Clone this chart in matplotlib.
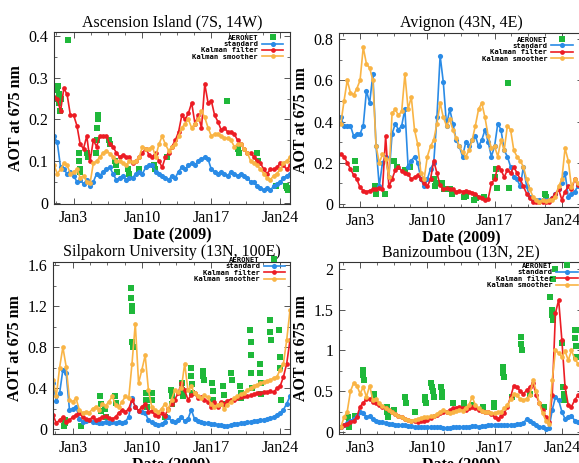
import numpy as np
import matplotlib
matplotlib.use('Agg')
import matplotlib.pyplot as plt
from matplotlib.ticker import FixedLocator, MultipleLocator, AutoMinorLocator

# ---- data: model AOT every 8 hours, AERONET as (day, value) ----
days_left = np.arange(73) / 3 + 1      # Jan 1 .. Jan 25
days_right = np.arange(76) / 3 + 1     # Jan 1 .. Jan 26

asc_std = [0.16, 0.145, 0.085, 0.08, 0.07, 0.075, 0.065, 0.05, 0.055, 0.045, 0.055, 0.04,
           0.05, 0.07, 0.065, 0.075, 0.08, 0.085, 0.07, 0.055, 0.06, 0.065, 0.055, 0.06,
           0.06, 0.07, 0.075, 0.07, 0.085, 0.09, 0.09, 0.075, 0.07, 0.065, 0.06, 0.055,
           0.065, 0.06, 0.075, 0.085, 0.08, 0.09, 0.095, 0.09, 0.10, 0.105, 0.11, 0.105,
           0.08, 0.075, 0.07, 0.075, 0.07, 0.065, 0.075, 0.07, 0.065, 0.07, 0.065, 0.06,
           0.05, 0.05, 0.04, 0.035, 0.03, 0.035, 0.03, 0.04, 0.045, 0.05, 0.06, 0.065, 0.07]
asc_kf = [0.255, 0.25, 0.22, 0.275, 0.26, 0.21, 0.21, 0.185, 0.14, 0.13, 0.16, 0.10,
          0.15, 0.135, 0.16, 0.16, 0.16, 0.14, 0.135, 0.12, 0.11, 0.115, 0.11, 0.11,
          0.095, 0.10, 0.11, 0.12, 0.13, 0.115, 0.11, 0.12, 0.10, 0.085, 0.11, 0.12,
          0.135, 0.15, 0.17, 0.21, 0.20, 0.215, 0.24, 0.19, 0.21, 0.18, 0.285, 0.24,
          0.245, 0.21, 0.195, 0.175, 0.18, 0.17, 0.17, 0.165, 0.15, 0.14, 0.13, 0.12,
          0.12, 0.11, 0.10, 0.095, 0.08, 0.07, 0.08, 0.08, 0.085, 0.095, 0.09, 0.08, 0.09]
asc_ks = [0.09, 0.07, 0.08, 0.095, 0.09, 0.07, 0.075, 0.08, 0.06, 0.065, 0.05, 0.047,
          0.095, 0.10, 0.11, 0.12, 0.125, 0.118, 0.11, 0.10, 0.10, 0.095, 0.09, 0.10,
          0.098, 0.10, 0.11, 0.135, 0.13, 0.13, 0.135, 0.11, 0.14, 0.16, 0.14, 0.125,
          0.135, 0.14, 0.16, 0.18, 0.19, 0.20, 0.18, 0.19, 0.20, 0.22, 0.205, 0.18,
          0.16, 0.165, 0.166, 0.16, 0.155, 0.155, 0.15, 0.135, 0.14, 0.14, 0.13, 0.12,
          0.10, 0.095, 0.09, 0.08, 0.07, 0.06, 0.055, 0.065, 0.07, 0.08, 0.095, 0.10, 0.11]
asc_aer_t = [1.3, 1.35, 1.4, 1.45, 1.5, 1.55, 1.6, 1.75, 2.45, 3.5, 3.55, 3.6, 3.65, 4.4, 4.5,
             5.3, 5.35, 5.4, 5.45, 5.5, 6.6, 6.7, 7.2, 7.3, 7.4, 8.5, 8.6, 9.6, 11.2, 11.3,
             12.5, 18.6, 19.7, 19.8, 21.6, 21.7, 23.6, 24.6, 24.7, 24.8, 24.9]
asc_aer_v = [0.25, 0.27, 0.28, 0.28, 0.26, 0.24, 0.22, 0.25, 0.39, 0.12, 0.10, 0.08, 0.075, 0.12, 0.11,
             0.12, 0.15, 0.18, 0.20, 0.21, 0.15, 0.14, 0.10, 0.09, 0.075, 0.08, 0.07, 0.08, 0.09, 0.08,
             0.11, 0.245, 0.13, 0.12, 0.12, 0.10, 0.04, 0.04, 0.035, 0.03, 0.035]

avi_std = [0.42, 0.38, 0.38, 0.38, 0.33, 0.34, 0.34, 0.38, 0.55, 0.49, 0.63, 0.28,
           0.085, 0.20, 0.23, 0.13, 0.34, 0.39, 0.36, 0.38, 0.46, 0.18, 0.21, 0.23,
           0.20, 0.12, 0.085, 0.12, 0.17, 0.20, 0.42, 0.72, 0.59, 0.38, 0.46, 0.39,
           0.31, 0.28, 0.23, 0.30, 0.28, 0.31, 0.33, 0.28, 0.31, 0.36, 0.30, 0.23,
           0.28, 0.39, 0.36, 0.26, 0.23, 0.18, 0.13, 0.12, 0.085, 0.18, 0.085, 0.035,
           0.02, 0.02, 0.02, 0.02, 0.02, 0.02, 0.03, 0.05, 0.07, 0.10, 0.15, 0.035,
           0.05, 0.06, 0.085, 0.09]
avi_kf = [0.24, 0.23, 0.20, 0.17, 0.14, 0.12, 0.08, 0.065, 0.06, 0.065, 0.07, 0.07,
          0.075, 0.07, 0.33, 0.085, 0.12, 0.165, 0.18, 0.16, 0.15, 0.145, 0.12, 0.13,
          0.14, 0.12, 0.10, 0.085, 0.12, 0.21, 0.15, 0.09, 0.07, 0.075, 0.07, 0.07,
          0.06, 0.065, 0.06, 0.065, 0.06, 0.055, 0.05, 0.035, 0.03, 0.02, 0.025, 0.10,
          0.12, 0.18, 0.165, 0.13, 0.165, 0.15, 0.18, 0.15, 0.12, 0.085, 0.05, 0.03,
          0.01, 0.01, 0.01, 0.01, 0.01, 0.01, 0.03, 0.05, 0.07, 0.02, 0.06, 0.085,
          0.07, 0.12, 0.09, 0.07]
avi_ks = [0.39, 0.50, 0.60, 0.54, 0.53, 0.56, 0.60, 0.76, 0.68, 0.66, 0.60, 0.28,
          0.20, 0.24, 0.22, 0.13, 0.44, 0.46, 0.43, 0.45, 0.63, 0.46, 0.52, 0.36,
          0.29, 0.15, 0.12, 0.23, 0.28, 0.31, 0.39, 0.49, 0.42, 0.38, 0.41, 0.36,
          0.32, 0.28, 0.25, 0.23, 0.26, 0.31, 0.38, 0.46, 0.49, 0.42, 0.33, 0.27,
          0.28, 0.23, 0.31, 0.26, 0.38, 0.36, 0.26, 0.23, 0.21, 0.18, 0.12, 0.07,
          0.035, 0.02, 0.01, 0.02, 0.015, 0.02, 0.02, 0.035, 0.085, 0.12, 0.27, 0.21,
          0.08, 0.12, 0.10, 0.08]
avi_aer_t = [2.5, 2.55, 4.6, 4.7, 5.6, 6.5, 6.8, 7.7, 8.2, 10.7, 10.8, 10.9, 11.5, 11.7,
             12.4, 12.6, 13.8, 14.0, 14.9, 15.1, 15.9, 17.0, 17.1, 17.2, 18.4, 18.45, 22.2, 22.3]
avi_aer_v = [0.21, 0.17, 0.085, 0.05, 0.05, 0.21, 0.18, 0.165, 0.18, 0.12, 0.085, 0.10, 0.10, 0.07,
             0.07, 0.05, 0.035, 0.04, 0.02, 0.03, 0.035, 0.13, 0.17, 0.075, 0.585, 0.075, 0.05, 0.035]

sil_std = [0.45, 0.28, 0.35, 0.58, 0.55, 0.19, 0.20, 0.22, 0.10, 0.075, 0.08, 0.09,
           0.075, 0.07, 0.06, 0.065, 0.075, 0.06, 0.07, 0.06, 0.075, 0.065, 0.075, 0.12,
           0.30, 0.22, 0.18, 0.17, 0.16, 0.09, 0.07, 0.055, 0.04, 0.05, 0.075, 0.12,
           0.08, 0.07, 0.09, 0.12, 0.08, 0.10, 0.19, 0.10, 0.08, 0.075, 0.06, 0.06,
           0.055, 0.05, 0.045, 0.04, 0.035, 0.035, 0.045, 0.05, 0.055, 0.06, 0.065, 0.07,
           0.075, 0.08, 0.085, 0.09, 0.095, 0.10, 0.11, 0.12, 0.14, 0.16, 0.19, 0.25, 0.32]
sil_kf = [0.14, 0.06, 0.09, 0.12, 0.075, 0.09, 0.12, 0.14, 0.16, 0.12, 0.10, 0.09,
          0.12, 0.09, 0.10, 0.12, 0.13, 0.11, 0.10, 0.12, 0.16, 0.19, 0.17, 0.20,
          0.29, 0.22, 0.18, 0.22, 0.25, 0.17, 0.18, 0.14, 0.13, 0.16, 0.13, 0.20,
          0.25, 0.29, 0.35, 0.45, 0.38, 0.29, 0.33, 0.35, 0.30, 0.31, 0.29, 0.27,
          0.22, 0.27, 0.22, 0.27, 0.25, 0.28, 0.29, 0.29, 0.30, 0.31, 0.32, 0.32,
          0.33, 0.34, 0.35, 0.35, 0.36, 0.36, 0.37, 0.36, 0.40, 0.42, 0.51, 0.64, 0.87]
sil_ks = [0.48, 0.32, 0.60, 0.80, 0.61, 0.29, 0.27, 0.30, 0.19, 0.16, 0.17, 0.16,
          0.20, 0.22, 0.19, 0.25, 0.23, 0.27, 0.32, 0.24, 0.22, 0.27, 0.32, 0.30,
          0.64, 1.03, 0.45, 0.58, 0.72, 0.38, 0.22, 0.19, 0.17, 0.20, 0.25, 0.19,
          0.29, 0.38, 0.36, 0.40, 0.64, 0.38, 0.42, 0.35, 0.32, 0.30, 0.33, 0.31,
          0.25, 0.22, 0.24, 0.25, 0.20, 0.24, 0.27, 0.30, 0.32, 0.34, 0.35, 0.38,
          0.40, 0.42, 0.43, 0.45, 0.46, 0.47, 0.48, 0.50, 0.51, 0.58, 0.64, 0.87, 1.16]
sil_aer_t = [2.15, 2.2, 2.25, 3.8, 5.8, 5.85, 5.9, 6.3, 6.35, 7.3, 7.35,
             8.85, 8.9, 8.95, 9.0, 9.05, 9.1, 10.4, 10.45, 10.5, 11.0, 11.05, 12.3,
             12.95, 13.0, 13.05, 14.05, 14.1, 14.15, 14.95, 15.0, 15.05, 15.1,
             16.15, 16.2, 16.25, 17.15, 17.2, 17.25, 18.25, 18.3, 18.35, 19.05, 19.1,
             19.95, 20.0, 20.05, 20.95, 21.0, 21.05, 21.1, 21.15, 21.95, 22.0, 22.05, 22.1,
             22.95, 23.0, 23.05, 23.85, 23.95, 24.0, 24.05]
sil_aer_v = [0.03, 0.06, 0.09, 0.03, 0.32, 0.25, 0.18, 0.20, 0.12, 0.32, 0.26,
             1.38, 1.28, 1.20, 1.15, 0.85, 0.80, 0.35, 0.29, 0.22, 0.35, 0.29, 0.12,
             0.38, 0.32, 0.25, 0.45, 0.38, 0.32, 0.60, 0.52, 0.44, 0.35,
             0.57, 0.52, 0.48, 0.45, 0.37, 0.29, 0.42, 0.33, 0.25, 0.55, 0.48,
             0.42, 0.35, 0.30, 0.97, 0.85, 0.72, 0.55, 0.40, 0.64, 0.55, 0.45, 0.34,
             1.06, 0.95, 0.87, 0.97, 0.70, 0.60, 0.29]

ban_std = [0.06, 0.08, 0.11, 0.14, 0.16, 0.20, 0.25, 0.23, 0.18, 0.20, 0.16, 0.14,
           0.12, 0.12, 0.11, 0.10, 0.10, 0.09, 0.09, 0.08, 0.08, 0.07, 0.07, 0.065,
           0.06, 0.06, 0.06, 0.06, 0.06, 0.06, 0.055, 0.055, 0.05, 0.05, 0.05, 0.055,
           0.06, 0.06, 0.06, 0.065, 0.065, 0.07, 0.07, 0.065, 0.07, 0.075, 0.08, 0.08,
           0.085, 0.09, 0.09, 0.085, 0.085, 0.09, 0.09, 0.10, 0.10, 0.11, 0.16, 0.14,
           0.11, 0.08, 0.06, 0.06, 0.04, 0.05, 0.27, 0.43, 0.39, 0.25, 0.16, 0.18,
           0.20, 0.14, 0.12, 0.11]
ban_kf = [0.06, 0.08, 0.10, 0.12, 0.14, 0.18, 0.31, 0.36, 0.40, 0.41, 0.37, 0.35,
          0.33, 0.31, 0.29, 0.27, 0.24, 0.22, 0.20, 0.18, 0.16, 0.15, 0.14, 0.13,
          0.12, 0.13, 0.14, 0.15, 0.17, 0.19, 0.21, 0.23, 0.25, 0.25, 0.27, 0.29,
          0.30, 0.31, 0.29, 0.27, 0.29, 0.31, 0.29, 0.27, 0.26, 0.25, 0.24, 0.22,
          0.18, 0.16, 0.19, 0.23, 0.31, 0.43, 0.57, 0.55, 0.50, 0.47, 0.51, 0.55,
          0.60, 0.45, 0.35, 0.27, 0.18, 0.12, 0.45, 1.46, 1.62, 1.13, 0.55, 0.33,
          0.31, 0.39, 0.45, 0.39]
ban_ks = [0.06, 0.18, 0.25, 0.50, 0.60, 0.57, 0.47, 0.55, 0.43, 0.57, 0.39, 0.41,
          0.35, 0.32, 0.29, 0.27, 0.25, 0.22, 0.20, 0.18, 0.16, 0.15, 0.14, 0.15,
          0.16, 0.17, 0.18, 0.18, 0.19, 0.20, 0.22, 0.25, 0.27, 0.25, 0.23, 0.24,
          0.26, 0.27, 0.26, 0.30, 0.33, 0.43, 0.33, 0.29, 0.26, 0.25, 0.24, 0.23,
          0.23, 0.24, 0.25, 0.29, 0.33, 0.40, 0.47, 0.45, 0.40, 0.39, 0.41, 0.45,
          0.64, 0.50, 0.35, 0.23, 0.14, 0.10, 0.64, 1.00, 0.97, 0.92, 0.99, 0.88,
          1.00, 0.90, 0.84, 0.80]
ban_aer_t = [1.75, 1.8, 1.85, 2.5, 3.3, 3.35, 3.4, 4.4, 4.45, 5.8, 5.85, 5.9, 6.5, 7.7, 7.75,
             8.7, 9.75, 9.8, 9.85, 10.4, 10.5, 10.6, 10.7, 11.45, 11.5, 11.55, 12.7, 13.8, 13.85,
             14.6, 15.8, 16.9, 16.95, 17.85, 17.9, 17.95, 18.8, 19.75, 19.8, 19.85, 20.7, 22.1,
             22.8, 22.95, 23.0, 23.05, 23.1, 23.3, 24.0, 24.15, 24.2, 24.25,
             25.35, 25.4, 25.45, 25.5, 25.9]
ban_aer_v = [0.18, 0.12, 0.06, 0.20, 0.76, 0.70, 0.64, 0.47, 0.43, 0.31, 0.25, 0.18, 0.27, 0.43, 0.35,
             0.25, 0.43, 0.39, 0.35, 0.60, 0.55, 0.50, 0.43, 0.55, 0.49, 0.43, 0.35, 0.35, 0.32,
             0.33, 0.31, 0.35, 0.31, 0.80, 0.72, 0.68, 0.43, 1.17, 1.08, 1.00, 0.47, 0.31,
             1.66, 1.50, 1.44, 1.38, 1.88, 2.00, 1.09, 0.55, 0.47, 0.39,
             1.25, 1.15, 1.05, 0.92, 1.25]

# ---- style ----
C_AER = '#1fb83a'
C_STD = '#2a8be6'
C_KF = '#ec1c24'
C_KS = '#f9b445'
SERIF = 'Liberation Serif'

W, H = 579, 463
fig = plt.figure(figsize=(W / 100, H / 100), dpi=100)


def px_axes(left, top, right, bottom):
    return fig.add_axes([left / W, 1 - bottom / H, (right - left) / W, (bottom - top) / H])


def panel(ax, title, days, std, kf, ks, at, av, xlim, ylim, ystep, leg_xy):
    ax.plot(at, av, 's', color=C_AER, ms=3.8, mew=0, label='AERONET')
    ax.plot(days, std, '-o', color=C_STD, lw=1.2, ms=3.7, mew=0, label='standard')
    ax.plot(days, kf, '-o', color=C_KF, lw=1.2, ms=3.4, mew=0, label='Kalman filter')
    ax.plot(days, ks, '-o', color=C_KS, lw=1.2, ms=3.4, mew=0, label='Kalman smoother')

    ax.set_xlim(*xlim)
    ax.set_ylim(*ylim)
    ax.xaxis.set_major_locator(FixedLocator([3, 10, 17, 24]))
    ax.set_xticklabels(['Jan3', 'Jan10', 'Jan17', 'Jan24'])
    ax.xaxis.set_minor_locator(MultipleLocator(1.75, offset=3))
    ax.yaxis.set_major_locator(MultipleLocator(ystep))
    ax.yaxis.set_minor_locator(AutoMinorLocator(2))
    ax.yaxis.set_major_formatter(plt.FuncFormatter(lambda v, p: f'{v:g}'))

    ax.tick_params(which='both', direction='in', top=True, right=True, color='#555555',
                   labelsize=11.5, pad=4)
    ax.tick_params(which='major', length=4, width=0.7)
    ax.tick_params(which='minor', length=2.5, width=0.6)
    for lab in ax.get_xticklabels() + ax.get_yticklabels():
        lab.set_family(SERIF)
    for s in ax.spines.values():
        s.set_linewidth(0.8)
        s.set_color('#333333')

    ax.set_title(title, family=SERIF, fontsize=11.5, pad=4)
    ax.set_xlabel('Date (2009)', family=SERIF, fontsize=11.5, fontweight='bold', labelpad=1)
    ax.set_ylabel('AOT at 675 nm', family=SERIF, fontsize=11.5, fontweight='bold', labelpad=3)

    ax.legend(loc='upper right', bbox_to_anchor=leg_xy, frameon=False, markerfirst=False,
              prop=dict(family='DejaVu Sans Mono', size=5.2, weight='bold'),
              handlelength=3.0, handletextpad=0.5, labelspacing=0.05,
              borderaxespad=0, borderpad=0)


ax1 = px_axes(54, 32, 290, 204)
panel(ax1, 'Ascension Island (7S, 14W)', days_left, asc_std, asc_kf, asc_ks,
      asc_aer_t, asc_aer_v, (1, 25), (-0.003, 0.41), 0.1, (0.972, 0.985))

ax2 = px_axes(339, 33, 583, 207)
panel(ax2, 'Avignon (43N, 4E)', days_right, avi_std, avi_kf, avi_ks,
      avi_aer_t, avi_aer_v, (0.81, 26.2), (-0.015, 0.83), 0.2, (0.957, 0.98))

ax3 = px_axes(53, 262, 290, 434)
panel(ax3, 'Silpakorn University (13N, 100E)', days_left, sil_std, sil_kf, sil_ks,
      sil_aer_t, sil_aer_v, (1, 25), (-0.046, 1.63), 0.4, (0.98, 1.03))

ax4 = px_axes(339, 262, 583, 434)
panel(ax4, 'Banizoumbou (13N, 2E)', days_right, ban_std, ban_kf, ban_ks,
      ban_aer_t, ban_aer_v, (0.81, 26.2), (-0.025, 2.086), 0.5, (0.98, 0.995))

fig.savefig('out.png', dpi=100)
